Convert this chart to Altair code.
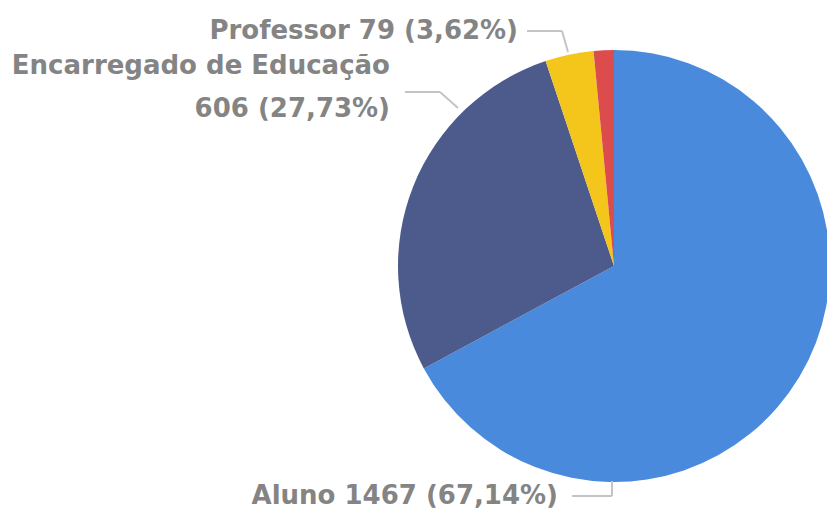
import altair as alt
import pandas as pd

categories = ["Aluno", "Encarregado de Educação", "Professor", "Outro"]
values = [1467, 606, 79, 33]
colors = ["#4a8adc", "#4d5b8c", "#f4c51a", "#dc4c4c"]

df = pd.DataFrame({
    "categoria": categories,
    "valor": values,
    "ordem": list(range(len(categories))),
})

OX, OY = 8, 8  # page margin offset
FONT = "DejaVu Sans"
TXT = "#848484"
LINE = "#c4c4c4"

pie = alt.Chart(df).mark_arc(outerRadius=216, stroke=None).encode(
    theta=alt.Theta("valor:Q", stack=True),
    order=alt.Order("ordem:Q"),
    color=alt.Color("categoria:N", scale=alt.Scale(domain=categories, range=colors), legend=None),
    x=alt.value(614 - OX),
    y=alt.value(266 - OY),
)

def label(text, x, y):
    return alt.Chart(pd.DataFrame({"t": [text]})).mark_text(
        align="right", baseline="alphabetic", font=FONT, fontSize=26,
        fontWeight="bold", color=TXT,
    ).encode(text="t:N", x=alt.value(x - OX), y=alt.value(y - OY))

def seg(x1, y1, x2, y2):
    return alt.Chart(pd.DataFrame({"a": [0]})).mark_rule(
        color=LINE, strokeWidth=2
    ).encode(
        x=alt.value(x1 - OX), y=alt.value(y1 - OY),
        x2=alt.value(x2 - OX), y2=alt.value(y2 - OY),
    )

total = sum(values)

def pct(v):
    return f"{v / total * 100:.2f}".replace(".", ",")

layers = [
    pie,
    label(f"Professor {values[2]} ({pct(values[2])}%)", 518, 39),
    label("Encarregado de Educação", 390, 74),
    label(f"{values[1]} ({pct(values[1])}%)", 390, 117),
    label(f"Aluno {values[0]} ({pct(values[0])}%)", 558, 504),
    seg(527, 31, 562, 31), seg(562, 31, 568, 52),
    seg(405, 92, 440, 92), seg(440, 92, 458, 108),
    seg(572, 496, 612, 496), seg(612, 496, 612, 481),
]

chart = alt.layer(*layers).properties(
    width=819, height=502, autosize=alt.AutoSizeParams(type="none"), padding=0,
    background="white",
).configure_view(strokeWidth=0)

chart.save("out.html", embed_options={"renderer": "svg", "actions": False})
